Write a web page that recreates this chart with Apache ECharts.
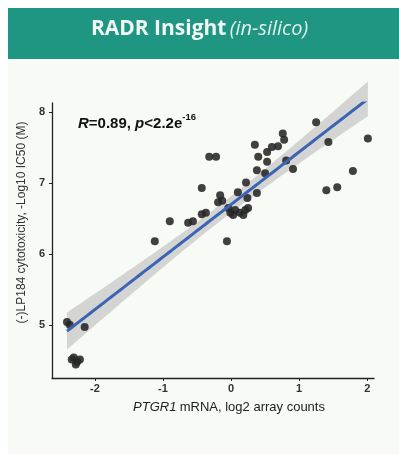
<!DOCTYPE html>
<html><head><meta charset="utf-8">
<script src="https://cdn.jsdelivr.net/npm/echarts@6/dist/echarts.min.js"></script>
<style>html,body{margin:0;padding:0;background:#fff;}#c{width:399px;height:455px;}</style>
</head><body><div id="c"></div>
<script>
// PTGR1 mRNA (log2 array counts) vs LP184 cytotoxicity (-Log10 IC50 M)
const xValues = [-2.41,-2.37,-2.15,-2.34,-2.26,-2.22,-2.28,-2.31,-1.12,-0.90,-0.63,-0.56,-0.43,-0.37,-0.43,-0.32,-0.22,-0.19,-0.16,-0.13,-0.06,-0.01,0.06,0.13,0.21,0.25,0.03,0.10,0.22,0.24,0.38,0.38,0.50,0.40,0.35,0.53,0.53,0.60,0.69,0.76,0.78,0.81,0.91,1.25,1.43,2.01,1.79,1.40,1.56,-0.04,0.18];
const yValues = [5.04,5.00,4.97,4.51,4.48,4.51,4.44,4.54,6.18,6.46,6.44,6.46,6.56,6.58,6.93,7.37,7.37,6.73,6.83,6.75,6.18,6.58,6.62,6.58,6.62,6.65,6.55,6.87,7.01,6.79,6.86,7.18,7.14,7.37,7.54,7.44,7.30,7.51,7.52,7.70,7.61,7.32,7.20,7.86,7.58,7.63,7.17,6.90,6.94,6.65,6.55];
const xTicks = [-2,-1,0,1,2];
const yTicks = [5,6,7,8];

// linear fit + 95% confidence band (like geom_smooth(method = "lm"))
const n = xValues.length;
const mx = xValues.reduce((a,b)=>a+b,0)/n, my = yValues.reduce((a,b)=>a+b,0)/n;
let sxx=0, sxy=0;
for (let i=0;i<n;i++){ sxx+=(xValues[i]-mx)**2; sxy+=(xValues[i]-mx)*(yValues[i]-my); }
const slope = sxy/sxx, icpt = my - slope*mx;
let sse=0; for (let i=0;i<n;i++){ sse += (yValues[i]-(icpt+slope*xValues[i]))**2; }
const s = Math.sqrt(sse/(n-2)), tq = 2.01;
const xmin = Math.min(...xValues), xmax = Math.max(...xValues);
const fit=[], band=[];
const steps = 80;
for (let k=0;k<=steps;k++){
  const x = xmin + (xmax-xmin)*k/steps;
  const yh = icpt + slope*x;
  const se = s*Math.sqrt(1/n + (x-mx)**2/sxx);
  fit.push([x,yh]); band.push([x, yh-tq*se, yh+tq*se]);
}
const pts = xValues.map((x,i)=>[x,yValues[i]]);

const chart = echarts.init(document.getElementById('c'), null, {renderer:'canvas'});
chart.setOption({
  backgroundColor:'#ffffff',
  animation:false,
  graphic:[
    {type:'rect', shape:{x:8,y:59,width:391,height:395}, style:{fill:'#f8faf5'}, z:-10},
    {type:'rect', shape:{x:8,y:8,width:391,height:51}, style:{fill:'#1f9682'}, z:-10},
    {type:'text', left:'center', top:19, style:{
      text:'{a|RADR Insight} {b|(in-silico)}',
      rich:{
        a:{fontFamily:'Open Sans', fontWeight:'bold', fontSize:21, fill:'#f2f7f5'},
        b:{fontFamily:'Open Sans', fontStyle:'italic', fontSize:20, fill:'#e3f0ec'}
      }}},
    {type:'text', left:78, top:112, style:{
      text:'{i|R}{n|=0.89, }{i|p}{n|<2.2e}{s|-16}',
      rich:{
        i:{fontFamily:'Liberation Sans', fontStyle:'italic', fontWeight:'bold', fontSize:15, fill:'#111', lineHeight:19, verticalAlign:'bottom'},
        n:{fontFamily:'Liberation Sans', fontWeight:'bold', fontSize:15, fill:'#111', lineHeight:19, verticalAlign:'bottom'},
        s:{fontFamily:'Liberation Sans', fontWeight:'bold', fontSize:9.5, fill:'#111', lineHeight:9, verticalAlign:'top'}
      }}}
  ],
  grid:{left:52, top:103, width:322, height:275, containLabel:false},
  xAxis:{
    type:'value', min:-2.63, max:2.1,
    axisLine:{show:true, onZero:false, lineStyle:{color:'#222', width:1.3}},
    axisTick:{show:true, length:3, customValues:xTicks, lineStyle:{color:'#222'}},
    axisLabel:{customValues:xTicks, color:'#333', fontFamily:'Liberation Sans', fontSize:11, fontWeight:'bold', margin:5},
    splitLine:{show:false},
    name:'{i|PTGR1} {n|mRNA, log2 array counts}',
    nameLocation:'middle', nameGap:23,
    nameTextStyle:{padding:[0,0,0,32],
      rich:{i:{fontFamily:'Liberation Sans', fontStyle:'italic', fontSize:13, color:'#222'},
            n:{fontFamily:'Liberation Sans', fontSize:13, color:'#222'}}}
  },
  yAxis:{
    type:'value', min:4.25, max:8.13,
    axisLine:{show:true, onZero:false, lineStyle:{color:'#222', width:1.3}},
    axisTick:{show:true, length:3, customValues:yTicks, lineStyle:{color:'#222'}},
    axisLabel:{customValues:yTicks, color:'#333', fontFamily:'Liberation Sans', fontSize:11, fontWeight:'bold', margin:7},
    splitLine:{show:false},
    name:'(-)LP184 cytotoxicity, -Log10 IC50 (M)',
    nameLocation:'middle', nameGap:21, nameRotate:90,
    nameTextStyle:{fontFamily:'Liberation Sans', fontSize:12, color:'#333', padding:[0,0,0,36]}
  },
  series:[
    {type:'custom', silent:true, z:1, data:[0],
      renderItem:function(params, api){
        const top = band.map(b=>api.coord([b[0], b[2]]));
        const bot = band.slice().reverse().map(b=>api.coord([b[0], b[1]]));
        return {type:'polygon', shape:{points: top.concat(bot)}, style:{fill:'#cfd0ce', opacity:0.9}};
      }},
    {type:'scatter', data:pts, symbolSize:8, itemStyle:{color:'#262626', opacity:0.88}, z:2},
    {type:'line', data:fit, symbol:'none', lineStyle:{color:'#3c64b4', width:3}, z:3}
  ]
});
</script></body></html>
